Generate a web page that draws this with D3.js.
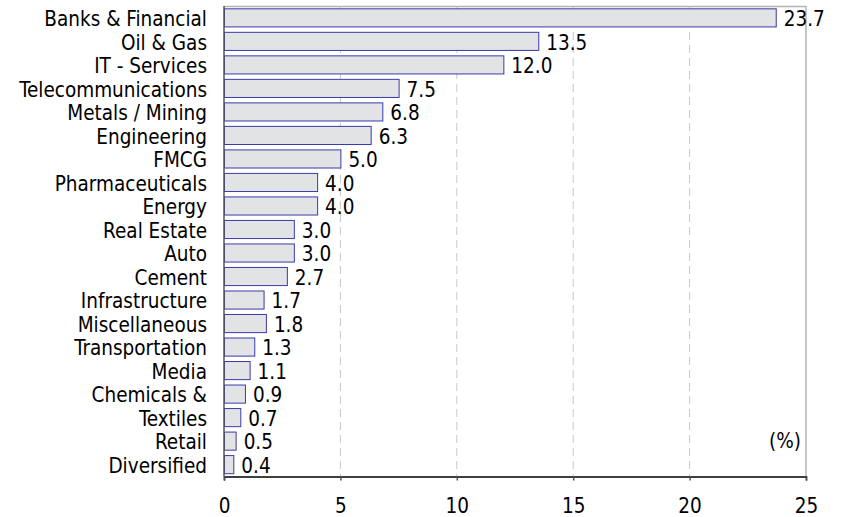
<!DOCTYPE html>
<html><head><meta charset="utf-8">
<script src="https://cdn.jsdelivr.net/npm/d3@7"></script>
<style>
html,body{margin:0;padding:0;background:#fff;}
text{font-family:"DejaVu Sans Condensed","DejaVu Sans",sans-serif;fill:#000;}
</style></head>
<body>
<svg id="chart" width="841" height="517"></svg>
<script>
const categories = ["Banks & Financial","Oil & Gas","IT - Services","Telecommunications","Metals / Mining","Engineering","FMCG","Pharmaceuticals","Energy","Real Estate","Auto","Cement","Infrastructure","Miscellaneous","Transportation","Media","Chemicals &","Textiles","Retail","Diversified"];
const values = [23.7,13.5,12.0,7.5,6.8,6.3,5.0,4.0,4.0,3.0,3.0,2.7,1.7,1.8,1.3,1.1,0.9,0.7,0.5,0.4];
const xTicks = [0,5,10,15,20,25];
const unitLabel = "(%)";

(function(){
const svg = d3.select("#chart");
const pL = 224, pR = 806, pT = 6, pB = 476.5;
const fs = 20.5;

const x = d3.scaleLinear().domain([0,25]).range([pL,pR]);
const y = d3.scaleBand().domain(categories).range([pT,pB]).paddingInner(0.23).paddingOuter(0.12);

svg.append("g").selectAll("line").data(xTicks.filter(d=>d>0&&d<25)).join("line")
  .attr("x1",d=>x(d)).attr("x2",d=>x(d)).attr("y1",pT).attr("y2",pB)
  .attr("stroke","#c8c8c8").attr("stroke-width",1).attr("stroke-dasharray","8,5");

svg.append("line").attr("x1",pL).attr("x2",pR).attr("y1",pT+0.5).attr("y2",pT+0.5).attr("stroke","#b4b4b4").attr("stroke-width",1.5);
svg.append("line").attr("x1",pR).attr("x2",pR).attr("y1",pT).attr("y2",pB).attr("stroke","#b4b4b4").attr("stroke-width",1.5);

svg.append("g").selectAll("rect").data(values).join("rect")
  .attr("x",x(0)+0.5).attr("y",(d,i)=>y(categories[i]))
  .attr("width",d=>x(d)-x(0)).attr("height",y.bandwidth())
  .attr("fill","#e1e3e5").attr("stroke","#3a3aaa").attr("stroke-width",1);

svg.append("g").selectAll("text").data(values).join("text")
  .attr("x",d=>x(d)+8).attr("y",(d,i)=>y(categories[i])+y.bandwidth()/2+1)
  .attr("dy","0.36em").attr("font-size",fs).text(d=>d.toFixed(1));

svg.append("g").selectAll("text").data(categories).join("text")
  .attr("x",pL-17).attr("y",d=>y(d)+y.bandwidth()/2+1).attr("dy","0.36em")
  .attr("text-anchor","end").attr("font-size",fs).text(d=>d);

svg.append("line").attr("x1",pL).attr("x2",pL).attr("y1",pT).attr("y2",pB).attr("stroke","#555").attr("stroke-width",1.5);

const xAxis = d3.axisBottom(x).tickValues(xTicks).tickSize(4).tickPadding(17.5).tickFormat(d3.format("d"));
const ga = svg.append("g").attr("transform",`translate(0,${pB})`).call(xAxis);
ga.attr("font-family",null).attr("font-size",null);
ga.select(".domain").attr("stroke","#000").attr("stroke-width",1.5);
ga.selectAll(".tick line").attr("stroke","#555").attr("stroke-width",1.5);
ga.selectAll(".tick text").attr("font-size",fs).attr("fill","#000");

svg.append("text").attr("x",801).attr("y",y("Retail")+y.bandwidth()/2).attr("dy","0.36em")
  .attr("text-anchor","end").attr("font-size",fs).text(unitLabel);
})();
</script>
</body></html>
